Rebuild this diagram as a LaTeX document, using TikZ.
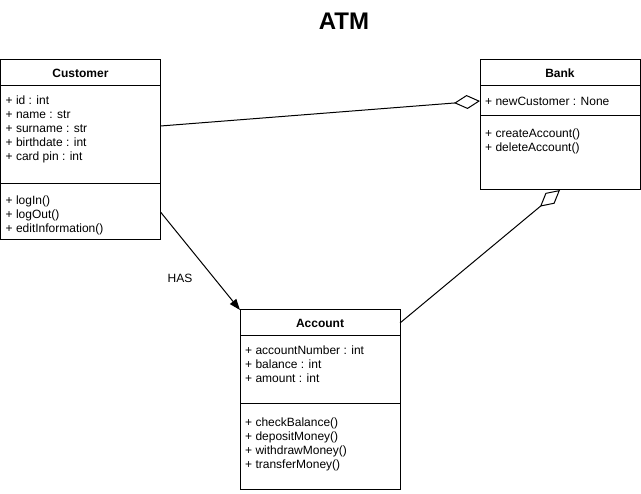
\documentclass[tikz,border=0pt]{standalone}
\usepackage{fontspec}
\setmainfont{Liberation Sans}
\usetikzlibrary{positioning}
\usetikzlibrary{arrows.meta}
\tikzset {
  x=1pt, y=-1pt,
  % one compartment of a class box
  box/.style = {draw, line width=1pt, inner sep=0pt, outer sep=0pt, minimum width=160pt, anchor=north west},
  % class name compartment
  head/.style = {box, minimum height=26pt, font=\bfseries\fontsize{12}{14}\selectfont},
  % attribute and method lists
  member/.style = {anchor=north west, align=left, inner sep=0pt, font=\fontsize{12}{14}\selectfont},
  % relations
  has/.style = {line width=1pt, -{Triangle[length=11pt,width=8pt]}},
  agg/.style = {line width=1pt, -{Diamond[open,length=26pt,width=14pt]}},
}
\begin{document}
\begin{tikzpicture}
        \useasboundingbox (0,0) rectangle (641,494);
        \node[font=\bfseries\fontsize{24}{28}\selectfont] (title) at (344,21) {ATM};

        % Customer
        \node[head] (custhead) at (0.5,60) {Customer};
        \node[box, minimum height=98pt, below=0pt of custhead] (custattr) {};
        \node[box, minimum height=56pt, below=0pt of custattr] (custmeth) {};
        \node[member] (custattrtxt) at ([xshift=5pt,yshift=-10pt]custattr.north west)
          {+ id : int\\+ name : str\\+ surname : str\\+ birthdate : int\\+ card pin : int};
        \node[member] (custmethtxt) at ([xshift=5pt,yshift=-12pt]custmeth.north west)
          {+ logIn()\\+ logOut()\\+ editInformation()};

        % Bank
        \node[head] (bankhead) at (480,60) {Bank};
        \node[box, minimum height=30pt, below=0pt of bankhead] (bankattr) {};
        \node[box, minimum height=74pt, below=0pt of bankattr] (bankmeth) {};
        \node[member] (bankattrtxt) at ([xshift=5pt,yshift=-11pt]bankattr.north west)
          {+ newCustomer : None};
        \node[member] (bankmethtxt) at ([xshift=5pt,yshift=-13pt]bankmeth.north west)
          {+ createAccount()\\+ deleteAccount()};

        % Account
        \node[head] (acchead) at (240,310) {Account};
        \node[box, minimum height=68pt, below=0pt of acchead] (accattr) {};
        \node[box, minimum height=86pt, below=0pt of accattr] (accmeth) {};
        \node[member] (accattrtxt) at ([xshift=5pt,yshift=-10pt]accattr.north west)
          {+ accountNumber : int\\+ balance : int\\+ amount : int};
        \node[member] (accmethtxt) at ([xshift=5pt,yshift=-14pt]accmeth.north west)
          {+ checkBalance()\\+ depositMoney()\\+ withdrawMoney()\\+ transferMoney()};

        \node[font=\fontsize{12}{14}\selectfont] (haslbl) at (180,278) {HAS};

        \draw [agg] ([yshift=9pt]custattr.east) -- (bankattr.west);
        \draw [has] (custmeth.east) -- (acchead.north west);
        \draw [agg] (acchead.east) -- (bankmeth.south);
      \end{tikzpicture}
\end{document}
